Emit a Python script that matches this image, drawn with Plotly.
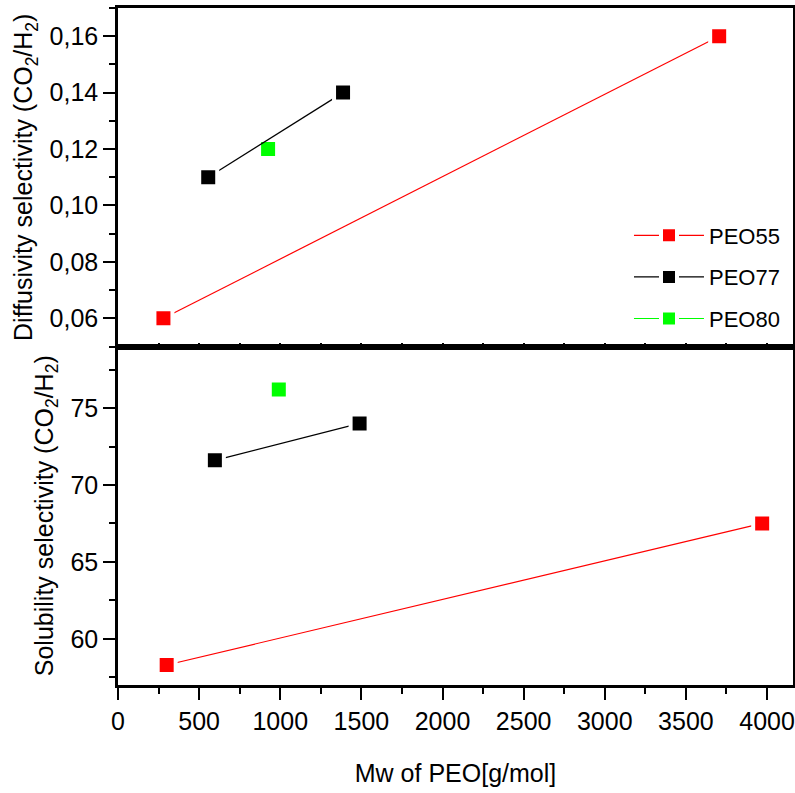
import plotly.graph_objects as go

# ---- data ----
series_names = ["PEO55", "PEO77", "PEO80"]
series_colors = ["#ff0000", "#000000", "#00ff00"]

# Diffusivity selectivity panel (top)
diff_x = {"PEO55": [280, 3705], "PEO77": [556, 1387], "PEO80": [925]}
diff_y = {"PEO55": [0.06, 0.16], "PEO77": [0.11, 0.14], "PEO80": [0.12]}

# Solubility selectivity panel (bottom)
sol_x = {"PEO55": [300, 3970], "PEO77": [597, 1489], "PEO80": [991]}
sol_y = {"PEO55": [58.3, 67.5], "PEO77": [71.6, 74.0], "PEO80": [76.2]}

x_title = "Mw of PEO[g/mol]"
y_top_title = "Diffusivity selectivity (CO<sub>2</sub>/H<sub>2</sub>)"
y_bot_title = "Solubility selectivity (CO<sub>2</sub>/H<sub>2</sub>)"

FONT = "Arial, Liberation Sans, sans-serif"

fig = go.Figure()
# draw order: green first so the black line crosses over it as in the reference
draw_order = ["PEO80", "PEO55", "PEO77"]
rank = {n: i for i, n in enumerate(series_names)}
for name in draw_order:
    col = series_colors[rank[name]]
    mk = dict(symbol="square", size=18, color=col, line=dict(color="white", width=4))
    fig.add_trace(go.Scatter(
        x=diff_x[name], y=diff_y[name], mode="lines+markers", name=name,
        line=dict(color=col, width=1.2), marker=mk,
        xaxis="x", yaxis="y", legendgroup=name, legendrank=rank[name] + 1,
        showlegend=True))
    fig.add_trace(go.Scatter(
        x=sol_x[name], y=sol_y[name], mode="lines+markers", name=name,
        line=dict(color=col, width=1.2), marker=mk,
        xaxis="x2", yaxis="y2", legendgroup=name, showlegend=False))

axis_common = dict(showline=True, linecolor="black", linewidth=2.5, mirror=True,
                   showgrid=False, zeroline=False, automargin=False,
                   tickfont=dict(family=FONT, size=25, color="black"),
                   tickcolor="black", tickwidth=1.5)

fig.update_layout(
    width=795, height=793,
    paper_bgcolor="white", plot_bgcolor="white",
    margin=dict(l=118, r=2, t=8, b=108),
    separators=",.",
    font=dict(family=FONT, color="black"),
    xaxis=dict(**axis_common, domain=[0, 1], anchor="y", range=[0, 4160],
               showticklabels=False, ticks="inside", ticklen=4, dtick=250, tick0=0),
    yaxis=dict(**axis_common, domain=[0.5, 1], anchor="x", range=[0.05, 0.17],
               dtick=0.02, tick0=0, tickformat=".2f", ticks="outside", ticklen=12,
               minor=dict(dtick=0.01, ticks="outside", ticklen=6, tickcolor="black"),
               title=dict(text=y_top_title, font=dict(family=FONT, size=25), standoff=10)),
    xaxis2=dict(**axis_common, domain=[0, 1], anchor="y2", range=[0, 4160],
                dtick=500, tick0=0, ticks="outside", ticklen=12,
                minor=dict(dtick=250, ticks="outside", ticklen=6, tickcolor="black"),
                title=dict(text=x_title, font=dict(family=FONT, size=25), standoff=31)),
    yaxis2=dict(**axis_common, domain=[0, 0.5], anchor="x2", range=[57, 79],
                dtick=5, tick0=0, ticks="outside", ticklen=12,
                minor=dict(dtick=2.5, ticks="outside", ticklen=6, tickcolor="black"),
                title=dict(text=y_bot_title, font=dict(family=FONT, size=25), standoff=10)),
    legend=dict(x=0.757, xanchor="left", y=0.695, yanchor="top",
                bgcolor="rgba(0,0,0,0)", font=dict(family=FONT, size=22),
                itemwidth=70, tracegroupgap=10, traceorder="grouped"),
    showlegend=True,
)

fig.write_html("out.html", config={"displayModeBar": False},
               post_script="document.body.style.margin='0';document.body.style.overflow='hidden';")
